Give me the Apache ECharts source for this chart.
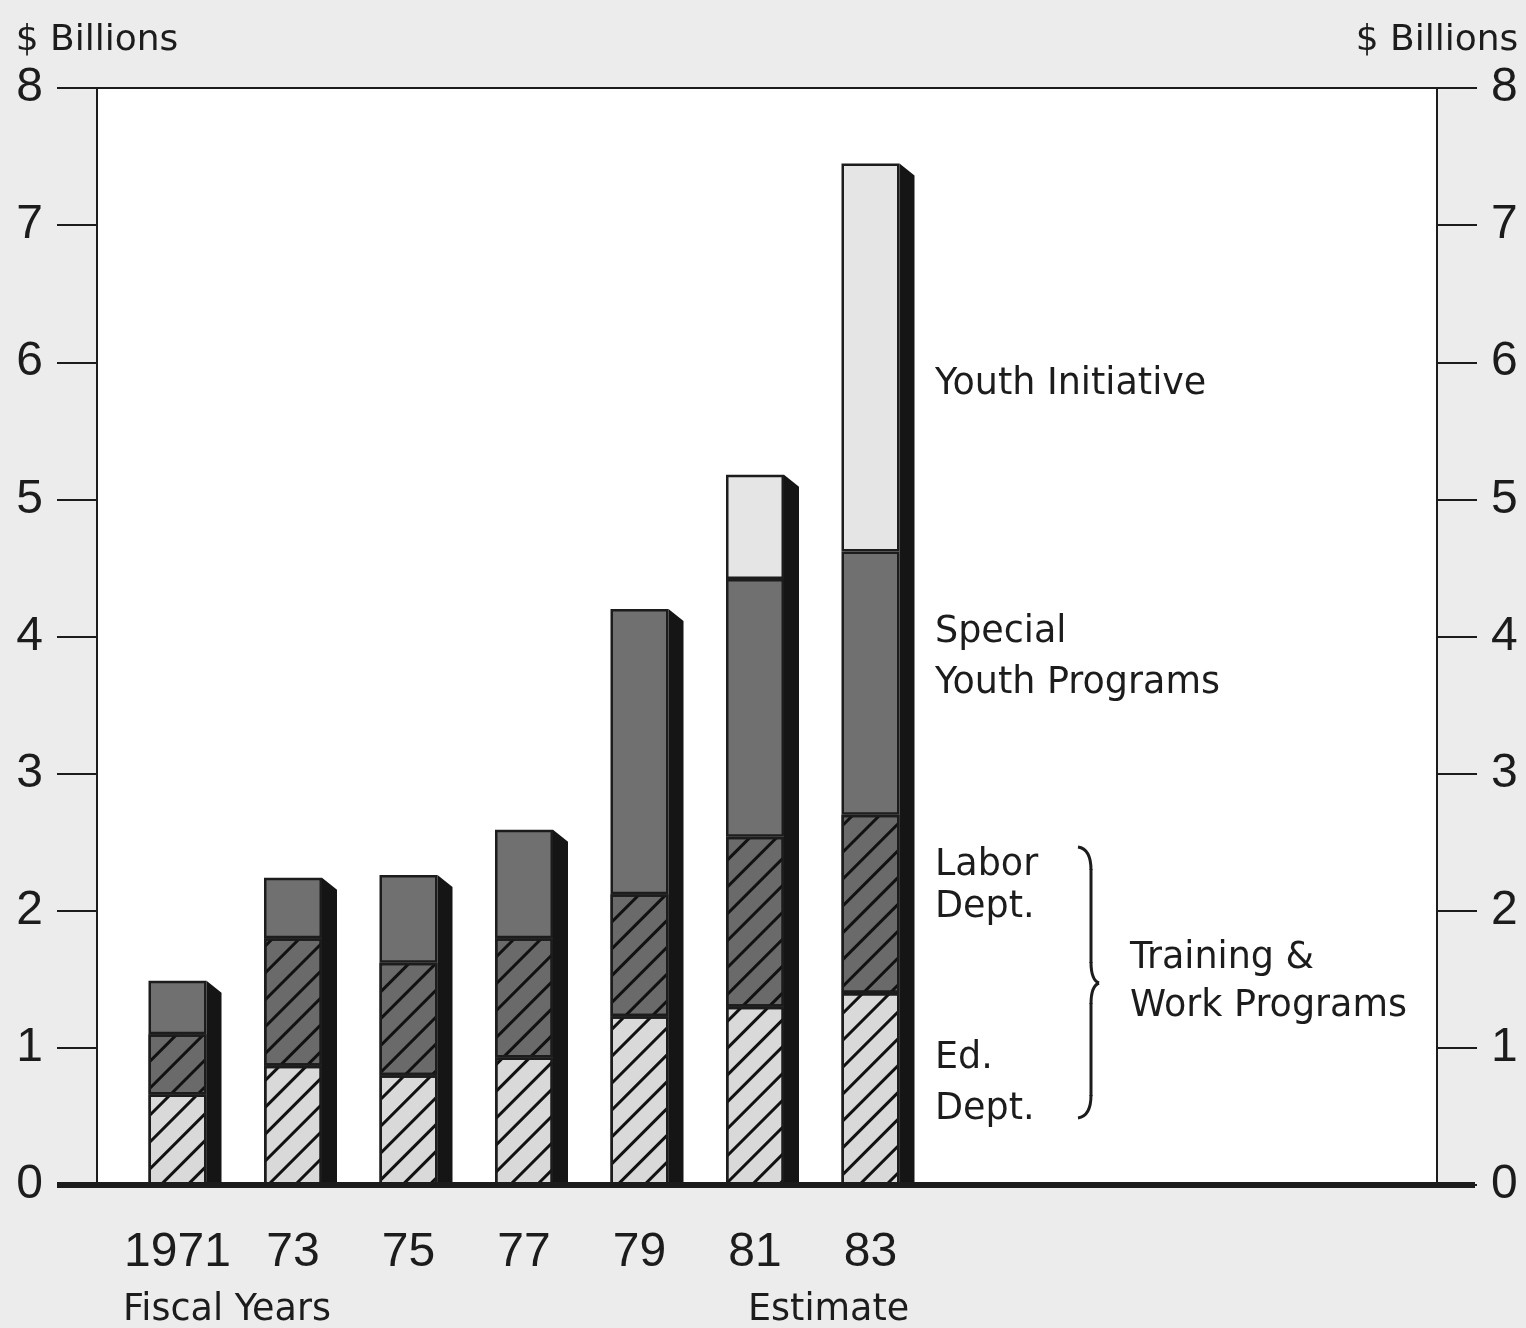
<!DOCTYPE html>
<html>
<head>
<meta charset="utf-8">
<script src="https://cdn.jsdelivr.net/npm/echarts@6/dist/echarts.min.js"></script>
<style>
  html, body { margin: 0; padding: 0; background: #ececec; }
  #chart { width: 1526px; height: 1328px; }
</style>
</head>
<body>
<div id="chart"></div>
<script>
'use strict';

// fiscal years (tick labels)
var yearLabels = ['1971', '73', '75', '77', '79', '81', '83'];

// $ billions, stacked bottom to top
var edDept = [0.66, 0.87, 0.80, 0.93, 1.23, 1.30, 1.40];
var laborDept = [0.44, 0.93, 0.82, 0.87, 0.89, 1.24, 1.30];
var specialYouth = [0.39, 0.44, 0.64, 0.79, 2.08, 1.88, 1.92];
var youthInitiative = [0, 0, 0, 0, 0, 0.76, 2.83];

var BAR_W = 58;
var INK = '#1c1c1c';
var FONT = 'DejaVu Sans';
var NUM_FONT = 'Liberation Sans';
var LABEL_FONT = '36.5px "DejaVu Sans"';

var totals = yearLabels.map(function (y, i) {
  return edDept[i] + laborDept[i] + specialYouth[i] + youthInitiative[i];
});

function hatch() {
  return {
    symbol: 'rect',
    symbolSize: 1,
    color: '#111',
    dashArrayX: [1, 0],
    dashArrayY: [2.5, 16],
    rotation: -Math.PI / 4
  };
}

var myChart = echarts.init(document.getElementById('chart'));

var yAxisBase = {
  type: 'value',
  gridIndex: 0,
  min: 0,
  max: 8,
  interval: 1,
  name: '$ Billions',
  nameLocation: 'end',
  nameGap: 29,
  nameTextStyle: { fontFamily: FONT, fontSize: 36, color: INK, align: 'center' },
  axisLine: { show: true, lineStyle: { color: INK, width: 2 } },
  axisTick: { show: true, inside: false, length: 40, lineStyle: { color: INK, width: 2 } },
  axisLabel: { fontFamily: NUM_FONT, fontSize: 48, color: INK, margin: 54 },
  splitLine: { show: false }
};

function barSeries(name, arr, color, hatched) {
  var style = { color: color, borderColor: INK, borderWidth: 2.5 };
  if (hatched) style.decal = hatch();
  return {
    name: name, type: 'bar', stack: 'total', barWidth: BAR_W,
    xAxisIndex: 1, yAxisIndex: 2,
    data: arr.map(function (v) { return v ? v : null; }),
    itemStyle: style
  };
}

var option = {
  backgroundColor: '#ececec',
  animation: false,
  grid: [
    // frame with both value axes
    { left: 97, right: 89, top: 88, bottom: 143,
      show: true, backgroundColor: '#ffffff', borderColor: INK, borderWidth: 2 },
    // band for the columns
    { left: 119.75, width: 808.5, top: 88, bottom: 143 }
  ],
  xAxis: [
    { type: 'value', gridIndex: 0, min: 0, max: 1, show: false },
    {
      type: 'category', gridIndex: 1, data: yearLabels,
      axisLine: { show: false }, axisTick: { show: false },
      axisLabel: { interval: 0, fontFamily: NUM_FONT, fontSize: 48, color: INK, margin: 44 }
    }
  ],
  yAxis: [
    Object.assign({}, yAxisBase, { position: 'left' }),
    Object.assign({}, yAxisBase, { position: 'right' }),
    { type: 'value', gridIndex: 1, min: 0, max: 8, interval: 1, show: false }
  ],
  series: [
    barSeries('Ed. Dept.', edDept, '#d9d9d9', true),
    barSeries('Labor Dept.', laborDept, '#6a6a6a', true),
    barSeries('Special Youth Programs', specialYouth, '#707070', false),
    barSeries('Youth Initiative', youthInitiative, '#e5e5e5', false),
    {
      // dark side face of each column
      name: 'side', type: 'custom',
      xAxisIndex: 1, yAxisIndex: 2,
      data: totals,
      renderItem: function (params, api) {
        var idx = api.value(0);
        var top = api.coord([idx, api.value(1)]);
        var base = api.coord([idx, 0]);
        var r = top[0] + BAR_W / 2;
        return {
          type: 'polygon',
          shape: { points: [[r, top[1]], [r + 15, top[1] + 12], [r + 15, base[1]], [r, base[1]]] },
          style: { fill: '#151515' }
        };
      }
    }
  ],
  graphic: [
    { type: 'line', z: 100, shape: { x1: 57, y1: 1185, x2: 1475, y2: 1185 },
      style: { stroke: INK, lineWidth: 6 } },
    { type: 'text', x: 935, y: 366,
      style: { text: 'Youth Initiative', font: LABEL_FONT, fill: INK } },
    { type: 'text', x: 935, y: 607,
      style: { text: 'Special\nYouth Programs', font: LABEL_FONT, fill: INK, lineHeight: 51 } },
    { type: 'text', x: 935, y: 845,
      style: { text: 'Labor\nDept.', font: LABEL_FONT, fill: INK, lineHeight: 42 } },
    { type: 'text', x: 935, y: 1033,
      style: { text: 'Ed.\nDept.', font: LABEL_FONT, fill: INK, lineHeight: 51 } },
    { type: 'text', x: 1130, y: 935,
      style: { text: 'Training &\nWork Programs', font: LABEL_FONT, fill: INK, lineHeight: 48 } },
    // brace
    { type: 'bezierCurve', shape: { x1: 1078, y1: 847, x2: 1091, y2: 870, cpx1: 1091, cpy1: 849 },
      style: { fill: null, stroke: INK, lineWidth: 3 } },
    { type: 'line', shape: { x1: 1091, y1: 869, x2: 1091, y2: 963 },
      style: { stroke: INK, lineWidth: 3 } },
    { type: 'bezierCurve', shape: { x1: 1091, y1: 962, x2: 1099, y2: 983, cpx1: 1091, cpy1: 980 },
      style: { fill: null, stroke: INK, lineWidth: 3 } },
    { type: 'bezierCurve', shape: { x1: 1099, y1: 983, x2: 1091, y2: 1004, cpx1: 1091, cpy1: 986 },
      style: { fill: null, stroke: INK, lineWidth: 3 } },
    { type: 'line', shape: { x1: 1091, y1: 1003, x2: 1091, y2: 1096 },
      style: { stroke: INK, lineWidth: 3 } },
    { type: 'bezierCurve', shape: { x1: 1091, y1: 1095, x2: 1078, y2: 1118, cpx1: 1091, cpy1: 1116 },
      style: { fill: null, stroke: INK, lineWidth: 3 } },
    { type: 'text', x: 123, y: 1292,
      style: { text: 'Fiscal Years', font: LABEL_FONT, fill: INK } },
    { type: 'text', x: 748, y: 1292,
      style: { text: 'Estimate', font: LABEL_FONT, fill: INK } }
  ]
};

myChart.setOption(option);

window.addEventListener('resize', function () {
  myChart.resize();
});
</script>
</body>
</html>
